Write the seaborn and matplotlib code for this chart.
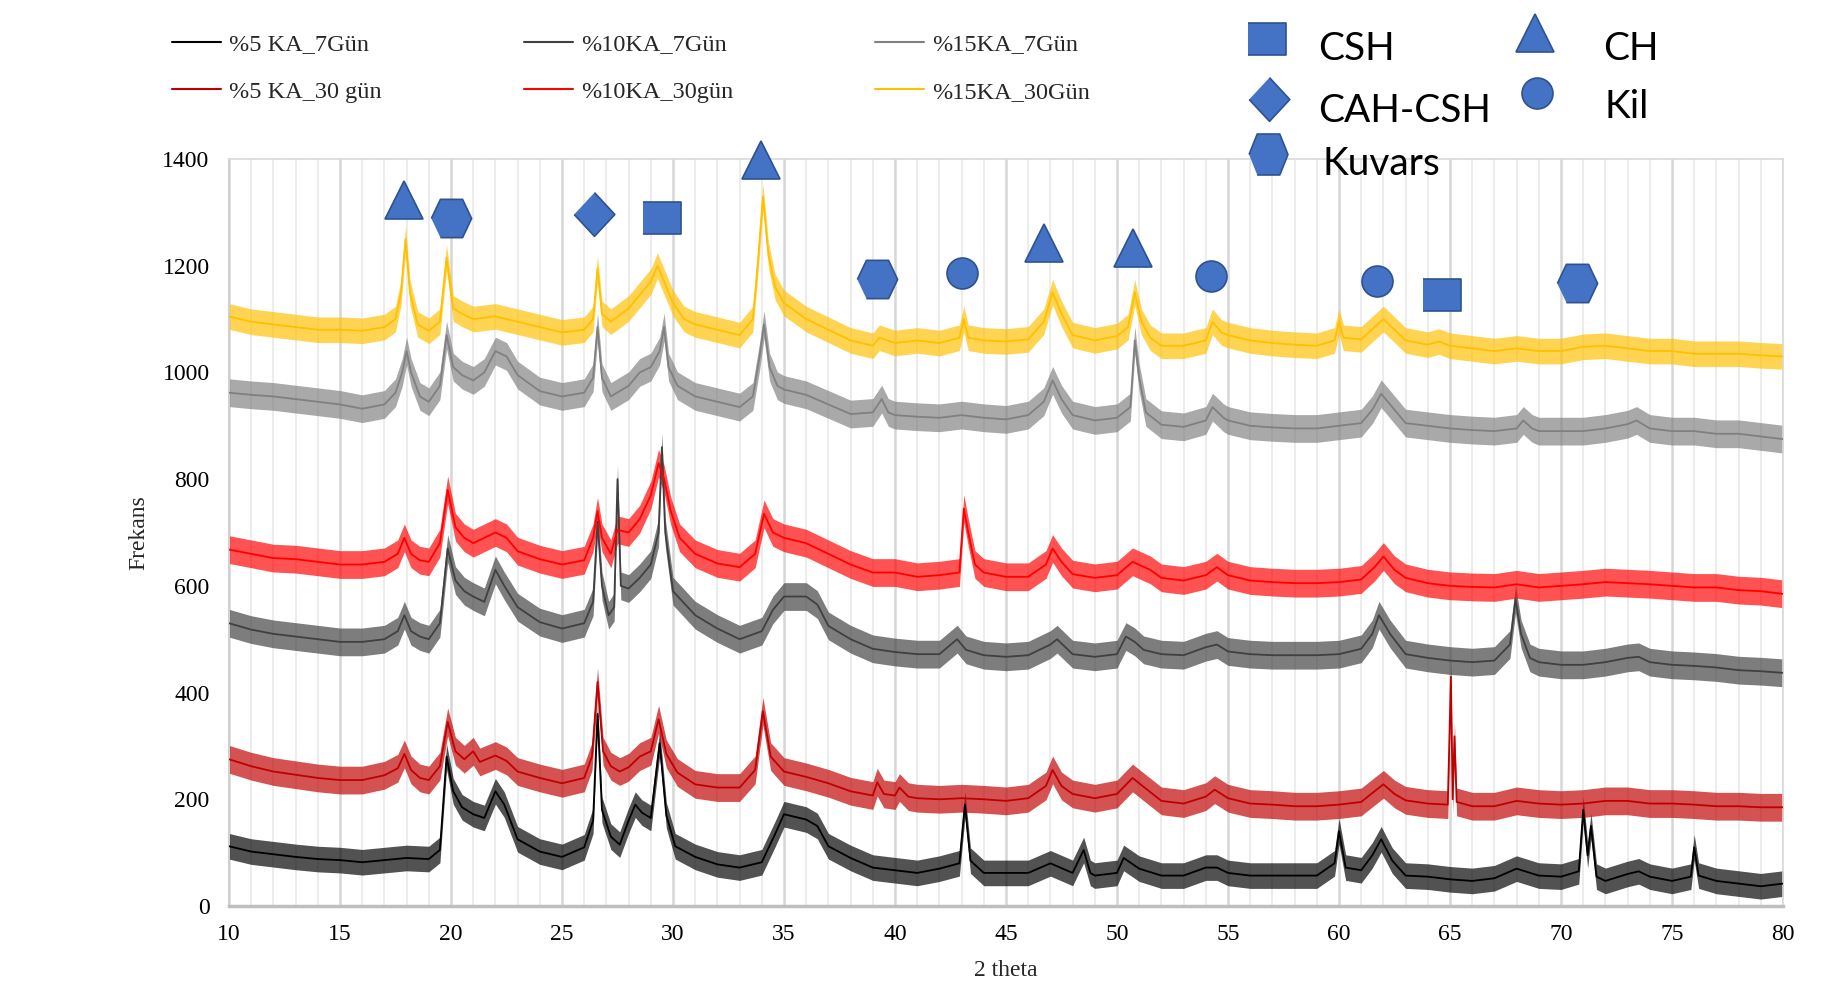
import numpy as np
import pandas as pd
import matplotlib
matplotlib.use("Agg")
import matplotlib.pyplot as plt
from matplotlib.lines import Line2D
import seaborn as sns

# ---------------------------------------------------------------------------
# XRD patterns, (2theta, counts) pairs for each mix / curing age
# ---------------------------------------------------------------------------
s5_7 = [(10,112),(11,102),(12,97),(13,92),(14,88),(15,86),(16,82),(17,86),(18,90),(19,88),
        (19.5,105),(19.8,280),(20.1,215),(20.5,185),(21,172),(21.5,165),(22,215),(22.4,190),
        (23,125),(24,102),(25,92),(26,110),(26.4,160),(26.6,360),(26.8,180),(27.2,130),
        (27.6,115),(28,160),(28.3,190),(28.6,175),(29,165),(29.4,305),(29.7,170),(30.1,112),
        (31,92),(32,78),(33,72),(34,82),(34.6,135),(35,172),(36,162),(36.5,150),(37,112),
        (38,90),(39,72),(40,67),(41,62),(42,70),(42.9,80),(43.15,190),(43.4,85),(44,62),
        (45,62),(46,62),(47,80),(48,62),(48.5,105),(48.8,62),(49,57),(50,62),(50.3,90),
        (51,70),(52,57),(53,57),(54,72),(54.5,72),(55,62),(56,57),(57,57),(58,57),(59,57),
        (59.8,80),(60.0,140),(60.3,72),(61,67),(61.5,95),(61.9,125),(62.4,85),(63,57),
        (64,55),(65,50),(66,47),(67,52),(68,70),(69,57),(70,55),(70.8,65),(71.0,180),
        (71.2,95),(71.35,150),(71.6,55),(72,47),(73,60),(73.5,65),(74,55),(75,47),
        (75.85,55),(76.0,110),(76.2,57),(77,47),(78,42),(79,37),(80,42)]

s10_7 = [(10,530),(11,518),(12,510),(13,505),(14,500),(15,495),(16,495),(17,500),(17.6,515),
         (17.9,545),(18.2,515),(18.6,505),(19,500),(19.5,530),(19.85,670),(20.2,610),
         (20.6,590),(21,580),(21.5,570),(22,630),(22.4,600),(23,560),(24,532),(25,520),
         (26,530),(26.4,570),(26.6,720),(26.8,600),(27.1,545),(27.35,560),(27.5,800),
         (27.65,600),(28,595),(28.5,615),(29,640),(29.35,700),(29.5,860),(29.65,700),
         (30,590),(31,545),(32,520),(33,500),(34,515),(34.5,555),(35,580),(36,580),
         (36.5,565),(37,525),(38,500),(39,482),(40,476),(41,472),(42,472),(42.8,500),
         (43.2,480),(44,470),(45,467),(46,470),(47,490),(47.3,500),(48,472),(49,467),
         (50,472),(50.4,505),(50.8,495),(51.2,480),(52,472),(53,470),(54,485),(54.5,490),
         (55,477),(56,472),(57,470),(58,470),(59,470),(60,472),(61,482),(61.5,510),
         (61.8,545),(62.3,510),(63,472),(64,465),(65,460),(66,457),(67,460),(67.7,490),
         (67.95,575),(68.2,510),(68.6,465),(69,457),(70,452),(71,452),(72,457),(73,465),
         (73.5,467),(74,457),(75,452),(76,450),(77,447),(78,442),(79,440),(80,437)]

s15_7 = [(10,962),(11,958),(12,955),(13,950),(14,945),(15,940),(16,932),(17,940),(17.5,962),
         (17.8,1000),(18.0,1040),(18.2,1000),(18.6,955),(19,945),(19.5,975),(19.8,1070),
         (20.1,1010),(20.5,995),(21,985),(21.5,1000),(22,1040),(22.5,1030),(23,995),
         (24,965),(25,955),(26,962),(26.4,990),(26.6,1085),(26.8,990),(27.2,955),(28,975),
         (28.5,1000),(29,1010),(29.4,1040),(29.6,1085),(29.8,1010),(30.2,975),(31,955),
         (32,945),(33,935),(33.6,955),(33.9,1030),(34.1,1090),(34.35,1010),(34.7,975),
         (35,968),(36,958),(37,940),(38,922),(39,925),(39.4,950),(39.7,925),(40,920),
         (41,917),(42,915),(43,920),(44,915),(45,912),(46,920),(46.7,945),(47.1,985),
         (47.5,950),(48,920),(49,910),(50,915),(50.6,935),(50.8,1060),(51.0,990),
         (51.3,925),(52,902),(53,898),(54,910),(54.3,935),(54.8,915),(55,910),(56,900),
         (57,897),(58,895),(59,895),(60,900),(61,905),(61.5,930),(61.9,960),(62.4,935),
         (63,905),(64,900),(65,895),(66,892),(67,890),(68,895),(68.3,910),(68.7,895),
         (69,890),(70,890),(71,890),(72,895),(73,903),(73.4,910),(74,895),(75,890),
         (76,890),(77,885),(78,885),(79,880),(80,875)]

s5_30 = [(10,275),(11,262),(12,252),(13,246),(14,240),(15,236),(16,236),(17,245),(17.6,258),
         (17.9,285),(18.2,255),(18.6,240),(19,236),(19.5,262),(19.85,345),(20.2,290),
         (20.6,275),(21,290),(21.3,270),(22,282),(22.5,272),(23,252),(24,240),(25,230),
         (26,240),(26.35,280),(26.6,420),(26.85,290),(27.2,262),(27.6,252),(28,260),
         (28.5,280),(29,290),(29.35,350),(29.7,285),(30.2,250),(31,228),(32,222),(33,222),
         (33.7,255),(34.05,365),(34.4,280),(35,252),(36,242),(37,230),(38,215),(39,207),
         (39.2,232),(39.5,210),(40,207),(40.2,222),(40.6,205),(41,202),(42,200),(43,202),
         (44,200),(45,197),(46,202),(46.8,225),(47.1,255),(47.5,225),(48,210),(49,202),
         (50,210),(50.7,240),(51.3,220),(52,197),(53,192),(54,205),(54.4,218),(55,202),
         (56,192),(57,190),(58,187),(59,187),(60,190),(61,195),(61.6,215),(62,228),
         (62.5,210),(63,198),(64,192),(64.9,190),(65.04,430),(65.12,200),(65.2,318),
         (65.3,195),(66,187),(67,187),(68,197),(69,192),(70,190),(71,192),(72,197),
         (73,197),(74,192),(75,192),(76,190),(77,187),(78,187),(79,185),(80,185)]

s10_30 = [(10,668),(11,660),(12,652),(13,650),(14,645),(15,640),(16,640),(17,645),(17.6,660),
          (17.9,690),(18.2,660),(18.6,648),(19,645),(19.5,680),(19.85,780),(20.2,710),
          (20.6,690),(21,680),(21.5,690),(22,700),(22.5,690),(23,665),(24,650),(25,640),
          (26,648),(26.4,690),(26.6,740),(26.8,690),(27.2,660),(27.5,705),(28,700),
          (28.5,725),(29,770),(29.35,830),(29.6,800),(29.9,740),(30.3,690),(31,660),
          (32,642),(33,635),(33.7,660),(34.1,735),(34.5,700),(35,690),(36,680),(37,660),
          (38,640),(39,625),(40,625),(41,617),(42,620),(42.9,625),(43.1,745),(43.3,700),
          (43.6,640),(44,625),(45,617),(46,617),(46.8,640),(47.1,670),(47.5,645),(48,622),
          (49,615),(50,620),(50.7,645),(51.5,630),(52,615),(53,610),(54,620),(54.5,635),
          (55,620),(56,610),(57,607),(58,605),(59,605),(60,607),(61,612),(61.6,635),
          (62,655),(62.5,630),(63,615),(64,605),(65,600),(66,598),(67,597),(68,603),
          (69,597),(70,600),(71,603),(72,607),(73,605),(74,603),(75,600),(76,597),
          (77,597),(78,592),(79,590),(80,585)]

s15_30 = [(10,1105),(11,1095),(12,1090),(13,1085),(14,1080),(15,1080),(16,1078),(17,1085),
          (17.5,1100),(17.75,1150),(17.95,1250),(18.15,1150),(18.5,1090),(19,1078),
          (19.5,1095),(19.8,1215),(20.1,1120),(20.5,1110),(21,1100),(22,1105),(23,1095),
          (24,1085),(25,1075),(26,1080),(26.4,1100),(26.6,1195),(26.8,1110),(27.2,1095),
          (28,1120),(28.5,1145),(29.0,1170),(29.3,1200),(29.6,1170),(30,1130),(30.5,1100),
          (31,1090),(32,1080),(33,1070),(33.6,1100),(33.85,1220),(34.05,1330),(34.3,1220),
          (34.6,1160),(35,1130),(36,1100),(37,1080),(38,1060),(39,1050),(39.3,1065),
          (40,1055),(41,1060),(42,1055),(42.9,1065),(43.1,1100),(43.3,1065),(44,1060),
          (45,1058),(46,1062),(46.7,1095),(47.1,1150),(47.5,1110),(48,1070),(49,1060),
          (50,1068),(50.5,1085),(50.8,1150),(51.1,1095),(51.5,1065),(52,1050),(53,1050),
          (54,1060),(54.3,1095),(54.7,1075),(55,1070),(56,1060),(57,1055),(58,1052),
          (59,1050),(59.8,1060),(60,1095),(60.2,1065),(61,1062),(61.6,1085),(62.0,1100),
          (62.5,1080),(63,1060),(64,1052),(64.5,1058),(65,1050),(66,1045),(67,1040),
          (68,1045),(69,1040),(70,1040),(71,1048),(72,1050),(73,1045),(74,1040),(75,1040),
          (76,1035),(77,1035),(78,1035),(79,1032),(80,1030)]

series_names = ["%5 KA_7Gün", "%5 KA_30 gün", "%10KA_7Gün",
                "%10KA_30gün", "%15KA_7Gün", "%15KA_30Gün"]
series_data = [s5_7, s5_30, s10_7, s10_30, s15_7, s15_30]
series_colors = ["#000000", "#C00000", "#404040", "#FF0000", "#808080", "#FFC000"]
# half-height of the counting-noise band around each pattern
noise_halfwidth = [24, 26, 26, 26, 26, 24]

# Phase markers (2theta, y position)
csh_x, csh_y = [29.49, 64.66], [1289, 1146]
ch_x, ch_y = [17.88, 33.98, 46.73, 50.74], [1323, 1398, 1242, 1234]
cah_x, cah_y = [26.45], [1297]
kil_x, kil_y = [43.01, 54.25, 61.73], [1187, 1180, 1171]
kuvars_x, kuvars_y = [20.02, 39.2, 70.7], [1289, 1175, 1167]

# ---------------------------------------------------------------------------
frames = []
for name, pts in zip(series_names, series_data):
    arr = np.array(pts, dtype=float)
    frames.append(pd.DataFrame({"2theta": arr[:, 0], "Frekans": arr[:, 1], "Numune": name}))
df = pd.concat(frames, ignore_index=True)

sns.set_theme(style="white")
plt.rcParams["font.family"] = ["Liberation Serif", "DejaVu Serif"]

W, H = 1822, 1008
fig = plt.figure(figsize=(W / 100, H / 100), dpi=100)
ax = fig.add_axes([229 / W, 1 - 906 / H, (1783 - 229) / W, (906 - 159) / H])

# noise bands
for name, col, hw in zip(series_names, series_colors, noise_halfwidth):
    sub = df[df["Numune"] == name]
    ax.fill_between(sub["2theta"], sub["Frekans"] - hw, sub["Frekans"] + hw,
                    color=col, alpha=0.68, lw=0, zorder=2)

sns.lineplot(data=df, x="2theta", y="Frekans", hue="Numune", hue_order=series_names,
             palette=dict(zip(series_names, series_colors)), estimator=None, sort=False,
             linewidth=1.3, legend=False, ax=ax, zorder=3)

ax.set_xlim(10, 80)
ax.set_ylim(0, 1400)
ax.set_xticks(np.arange(10, 81, 5))
ax.set_xticks(np.arange(10, 81, 1), minor=True)
ax.set_yticks(np.arange(0, 1401, 200))
ax.grid(axis="x", which="minor", color="#EBEBEB", lw=1.3)
ax.grid(axis="x", which="major", color="#D6D6D6", lw=1.8)
ax.grid(axis="y", visible=False)
ax.set_axisbelow(True)
ax.tick_params(axis="x", which="minor", length=0)
ax.tick_params(axis="both", which="major", direction="out", length=5, width=1.4,
               color="#BFBFBF", labelsize=17, labelcolor="black")
ax.tick_params(axis="x", which="major", pad=8)
ax.tick_params(axis="y", which="major", pad=9)

for side, col, lw in [("bottom", "#BFBFBF", 2.5), ("left", "#D0D0D0", 1.5),
                      ("top", "#D9D9D9", 1.2), ("right", "#D9D9D9", 1.2)]:
    ax.spines[side].set_color(col)
    ax.spines[side].set_linewidth(lw)
    ax.spines[side].set_visible(True)

ax.set_xlabel("2 theta", fontsize=17)
ax.set_ylabel("Frekans", fontsize=17)
ax.xaxis.set_label_coords(0.5, (906 - 970) / (906 - 159))
ax.xaxis.label.set_va("center")
ax.yaxis.set_label_coords((139 - 229) / (1783 - 229), 0.5)
ax.yaxis.label.set_va("center")
ax.yaxis.label.set_ha("center")

# phase markers on the pattern
fill, edge = "#4472C4", "#2F528F"
sq_verts = [(-1, -0.84), (1, -0.84), (1, 0.84), (-1, 0.84)]
dia_verts = [(0, 1), (0.93, 0), (0, -1), (-0.93, 0)]
hex_verts = [(-1, 0), (-0.55, 0.95), (0.55, 0.95), (1, 0), (0.55, -0.95), (-0.55, -0.95)]
hex_leg_verts = [(-0.95, 0), (-0.55, 1), (0.55, 1), (0.95, 0), (0.55, -1), (-0.55, -1)]
mk = dict(ls="none", mfc=fill, mec=edge, mew=1.2, clip_on=False, zorder=5)
ax.plot(csh_x, csh_y, marker=sq_verts, ms=27.4, **mk)
ax.plot(ch_x, ch_y, marker="^", ms=27.4, **mk)
ax.plot(cah_x, cah_y, marker=dia_verts, ms=31.5, **mk)
ax.plot(kil_x, kil_y, marker="o", ms=22.3, **mk)
ax.plot(kuvars_x, kuvars_y, marker=hex_verts, ms=29.0, **mk)

# series legend
handles = [Line2D([], [], color=c, lw=1.5) for c in series_colors]
fig.legend(handles, series_names, ncol=3, loc="upper left",
           bbox_to_anchor=(172 / W, 1 - 33 / H), frameon=False, fontsize=17.5,
           handlelength=2.0, handletextpad=0.35, columnspacing=5.85,
           labelspacing=1.06, borderpad=0, borderaxespad=0)

# phase legend
def fig_marker(px, py, marker, ms):
    fig.add_artist(Line2D([px / W], [1 - py / H], marker=marker, ms=ms, ls="none",
                          mfc=fill, mec=edge, mew=1.2, transform=fig.transFigure))

def fig_label(px, py, text):
    fig.text(px / W, 1 - py / H, text, fontsize=28, family=["Lato", "DejaVu Sans"],
             va="baseline", ha="left", color="black")

fig_marker(1267, 39, sq_verts, 27.4)
fig_label(1318, 60, "CSH")
fig_marker(1269, 99, dia_verts, 31.5)
fig_label(1318, 122, "CAH-CSH")
fig_marker(1268, 154, hex_leg_verts, 29.5)
fig_label(1322, 175, "Kuvars")
fig_marker(1535, 33, "^", 27.4)
fig_label(1603, 60, "CH")
fig_marker(1537, 93, "o", 22.3)
fig_label(1605, 118, "Kil")

fig.savefig("out.png", dpi=100, facecolor="white")
